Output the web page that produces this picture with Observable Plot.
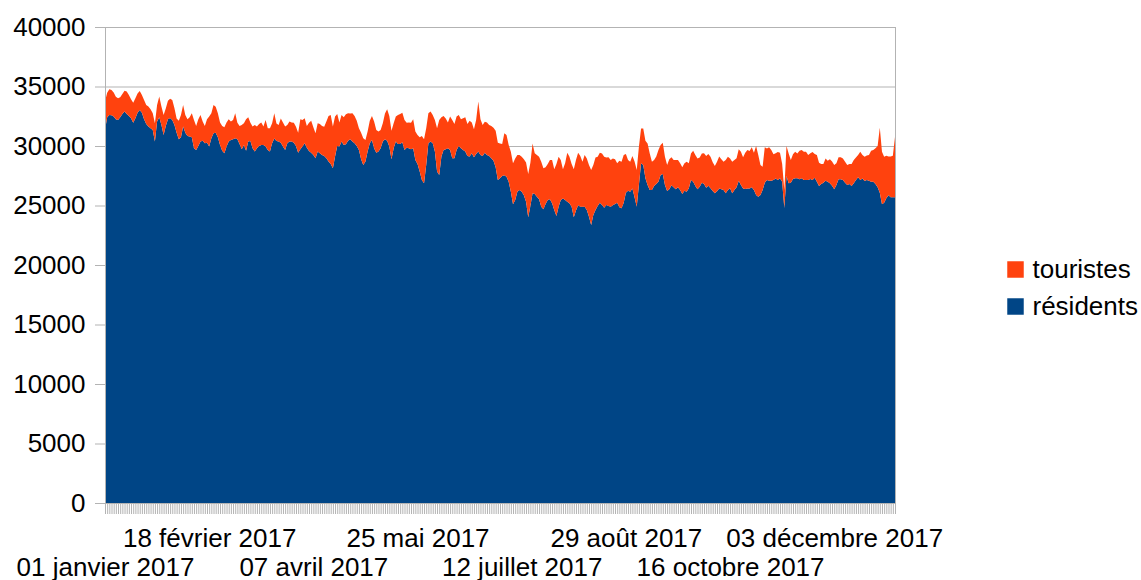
<!DOCTYPE html>
<html>
<head>
<meta charset="utf-8">
<script src="https://cdn.jsdelivr.net/npm/d3@7"></script>
<script src="https://cdn.jsdelivr.net/npm/@observablehq/plot@0.6"></script>
<style>
  html, body { margin: 0; padding: 0; background: #ffffff; }
</style>
</head>
<body>
<div id="chart"></div>
<script>
// Daily values for 2017 (365 days)
const residents = [
  31350, 32410, 32610, 32580, 32470, 32240, 32190, 32410, 32690, 32890,
  32690, 32520, 32330, 31960, 32330, 32800, 33030, 32800, 32240, 31850,
  31630, 31490, 31350, 30370, 32050, 32410, 31770, 30930, 31680, 32240,
  32350, 32190, 31770, 31120, 30560, 30730, 31630, 31120, 30840, 30790,
  30730, 29810, 29670, 30000, 30370, 30450, 30230, 30280, 29950, 30650,
  31070, 31120, 30730, 30090, 29610, 29390, 29950, 30370, 30510, 30560,
  30650, 30560, 30170, 29720, 30090, 29610, 30370, 30420, 29810, 29530,
  29810, 30000, 30090, 30090, 29950, 29670, 29530, 30230, 30620, 30420,
  30370, 30280, 29950, 29670, 30230, 30370, 30370, 30280, 30000, 29440,
  29720, 29950, 30230, 29860, 29580, 29440, 29250, 28970, 29530, 29390,
  29250, 29160, 28970, 28690, 28490, 28130, 29110, 30000, 29950, 30370,
  30090, 30140, 30450, 30560, 30370, 30230, 30000, 29670, 28880, 28410,
  28690, 29530, 30230, 30510, 29810, 29440, 29530, 29810, 30370, 30560,
  30450, 29950, 28880, 29810, 30370, 30170, 30170, 30310, 29670, 29860,
  29810, 29720, 29810, 28830, 28490, 27850, 27150, 26870, 28410, 30230,
  30370, 30230, 29530, 27850, 27570, 29110, 29670, 29720, 29810, 29670,
  28970, 28970, 29670, 30000, 29810, 29670, 29530, 29160, 29110, 29390,
  29050, 29330, 29530, 29250, 29160, 29440, 29250, 29160, 28970, 28770,
  28210, 27140, 27280, 27480, 27540, 27420, 27000, 26160, 25100, 25460,
  26160, 26300, 26160, 25860, 25320, 24010, 24960, 26020, 25970, 25740,
  25520, 24900, 24680, 25130, 25460, 25520, 25180, 24620, 24120, 24900,
  25460, 25580, 25460, 25320, 25180, 24900, 24010, 24570, 25020, 24900,
  24900, 24900, 24620, 24060, 23360, 24200, 24620, 24960, 25240, 25040,
  24820, 25040, 24960, 24900, 25020, 25130, 25240, 24850, 24760, 25240,
  26080, 26250, 26160, 26420, 25690, 24900, 26720, 28540, 28400, 27280,
  26720, 26300, 26300, 26640, 26810, 27000, 27560, 27650, 26720, 26220,
  26360, 26700, 26530, 26360, 26530, 26300, 25970, 26250, 26160, 26440,
  27140, 27000, 26640, 26360, 26580, 26920, 26810, 26500, 26670, 26440,
  26220, 26020, 26190, 26420, 26360, 26300, 26020, 26300, 26440, 26020,
  26300, 26530, 27090, 26720, 26420, 26390, 26420, 26420, 26530, 26300,
  25880, 25740, 25880, 26300, 26920, 27140, 27090, 27090, 27140, 27260,
  27140, 27280, 27000, 24800, 27480, 26860, 26920, 27230, 27280, 27280,
  27200, 27280, 27140, 27140, 27140, 27230, 27140, 27340, 27000, 26640,
  26810, 26920, 27090, 27000, 26860, 26670, 26360, 26720, 27200, 27200,
  27140, 26920, 26720, 26810, 26640, 26860, 27140, 27370, 27140, 27260,
  27060, 27140, 27090, 27000, 27000, 26810, 26530, 26080, 25100, 25240,
  25600, 25860, 25690, 25690, 25700
];
const tourists = [
  2380, 2070, 2160, 2130, 2020, 1900, 1820, 1680, 1680, 1760,
  1880, 1760, 1600, 1680, 1680, 1620, 1600, 1480, 1620, 1600,
  1680, 1600, 1400, 1540, 1400, 1740, 1540, 1680, 1480, 1570,
  1620, 1680, 1400, 1200, 1570, 1880, 1820, 1480, 1400, 1620,
  2020, 2380, 2020, 2240, 2240, 1600, 1460, 1960, 2520, 2100,
  2380, 2180, 2020, 1880, 2070, 2180, 2020, 1880, 1540, 1620,
  2100, 1400, 1510, 2040, 1820, 2630, 2040, 1540, 1820, 2240,
  1820, 1850, 1880, 1540, 2240, 1820, 1960, 1680, 2130, 1480,
  1400, 2040, 2020, 1960, 1540, 1680, 1600, 1680, 1620, 1680,
  2520, 2240, 2100, 1820, 2380, 2690, 2320, 2100, 2380, 2460,
  2440, 2460, 3080, 3840, 4120, 3500, 3360, 2690, 2020, 2240,
  2320, 2520, 2300, 2180, 2380, 2300, 2130, 1820, 2240, 2240,
  1820, 1680, 1900, 2020, 2240, 1900, 1680, 1540, 1540, 2180,
  2630, 2580, 2410, 2100, 2100, 2440, 2520, 2490, 2520, 2100,
  2160, 2240, 2440, 2380, 2440, 2880, 3700, 3700, 3080, 2520,
  2520, 2380, 2660, 3640, 4620, 3300, 2860, 2600, 2160, 2800,
  3220, 2880, 2800, 2600, 2440, 2660, 2880, 2690, 3020, 2580,
  2350, 2860, 4200, 3000, 2600, 2600, 2720, 2600, 2720, 2770,
  3080, 3140, 2940, 2690, 3530, 3500, 3080, 3360, 3440, 3500,
  3080, 2940, 2940, 3020, 3300, 3640, 3640, 4200, 3420, 3500,
  3580, 3780, 3440, 3080, 3020, 3300, 3640, 3420, 4370, 4200,
  3360, 2460, 3080, 4120, 3920, 3580, 4030, 4260, 4420, 4260,
  3780, 4340, 4340, 4340, 4620, 4200, 4420, 4140, 4200, 4340,
  4280, 4000, 4090, 3920, 3920, 3750, 3300, 3920, 3920, 4000,
  3250, 2580, 2520, 2740, 3000, 3080, 3220, 2940, 3080, 3160,
  3500, 3080, 2380, 2180, 2300, 2660, 2520, 2630, 2380, 2180,
  2520, 2350, 2300, 2460, 2300, 2240, 2240, 2300, 2520, 2100,
  2240, 2600, 2600, 2600, 2460, 2460, 2580, 2660, 2660, 2660,
  2410, 2300, 2490, 2690, 2520, 2380, 2800, 2800, 2520, 2660,
  2520, 2440, 2630, 2800, 2630, 3050, 3250, 3160, 3360, 3140,
  4120, 3500, 2520, 1960, 2970, 2660, 2800, 2580, 2160, 2130,
  2350, 2160, 1500, 1500, 2520, 2520, 1900, 2070, 2240, 2100,
  2410, 2380, 2380, 2380, 2100, 2160, 2350, 1990, 2240, 1960,
  1680, 1570, 1850, 1760, 2020, 2020, 2040, 1820, 1850, 1850,
  1820, 1760, 1680, 1680, 1850, 1960, 1900, 1880, 2380, 1990,
  2040, 2070, 2160, 2600, 2660, 3000, 3470, 5450, 4420, 3860,
  3580, 3250, 3420, 3500, 5050
];
const startDate = "2017-01-01";
const seriesNames = ["touristes", "résidents"];
const seriesColors = ["#ff420e", "#004586"];
const yTicks = [0, 5000, 10000, 15000, 20000, 25000, 30000, 35000, 40000];
const xTickDates = ["2017-01-01", "2017-02-18", "2017-04-07", "2017-05-25", "2017-07-12", "2017-08-29", "2017-10-16", "2017-12-03"];
const xTickLabels = ["01 janvier 2017", "18 février 2017", "07 avril 2017", "25 mai 2017", "12 juillet 2017", "29 août 2017", "16 octobre 2017", "03 décembre 2017"];

// build table
const t0 = new Date(startDate + "T00:00:00Z");
const dates = residents.map((_, i) => d3.utcDay.offset(t0, i));
const table = [];
dates.forEach((d, i) => table.push({date: d, series: "résidents", value: residents[i]}));
dates.forEach((d, i) => table.push({date: d, series: "touristes", value: tourists[i]}));
const xTicks = xTickDates.map((s, i) => ({date: new Date(s + "T00:00:00Z"), label: xTickLabels[i], row: i % 2}));

const grey = "#b3b3b3";
const chart = Plot.plot({
  width: 1141,
  height: 580,
  marginLeft: 105,
  marginRight: 246,
  marginTop: 27,
  marginBottom: 77,
  style: {fontFamily: "'Liberation Sans', Arial, sans-serif", fontSize: "26px", background: "#ffffff", color: "#000000"},
  x: {type: "utc", domain: [dates[0], dates[dates.length - 1]]},
  y: {domain: [0, 40000]},
  color: {domain: seriesNames, range: seriesColors},
  marks: [
    Plot.gridY(yTicks, {stroke: grey, strokeOpacity: 1}),
    Plot.areaY(table, {x: "date", y: "value", fill: "series", order: ["résidents", "touristes"], curve: "linear"}),
    Plot.frame({stroke: grey}),
    Plot.axisY(yTicks, {tickSize: 10, tickPadding: 10, tickFormat: d => String(d), stroke: grey, fontSize: 26, label: null}),
    Plot.axisX(dates, {tickSize: 11, tickFormat: () => "", stroke: grey, label: null}),
    Plot.text(xTicks.filter(d => d.row === 1), {x: "date", text: "label", frameAnchor: "bottom", dy: 43, fontSize: 26, fill: "#000"}),
    Plot.text(xTicks.filter(d => d.row === 0), {x: "date", text: "label", frameAnchor: "bottom", dy: 72, fontSize: 26, fill: "#000"}),
    Plot.dot([seriesNames[0]], {frameAnchor: "right", dx: 120, dy: 4, symbol: "square", r: 9.3, fill: seriesColors[0]}),
    Plot.dot([seriesNames[1]], {frameAnchor: "right", dx: 120, dy: 41, symbol: "square", r: 9.3, fill: seriesColors[1]}),
    Plot.text([seriesNames[0]], {frameAnchor: "right", dx: 137, dy: 4, text: d => d, textAnchor: "start", fontSize: 26, fill: "#000"}),
    Plot.text([seriesNames[1]], {frameAnchor: "right", dx: 137, dy: 41, text: d => d, textAnchor: "start", fontSize: 26, fill: "#000"})
  ]
});
document.getElementById("chart").appendChild(chart);
</script>
</body>
</html>
